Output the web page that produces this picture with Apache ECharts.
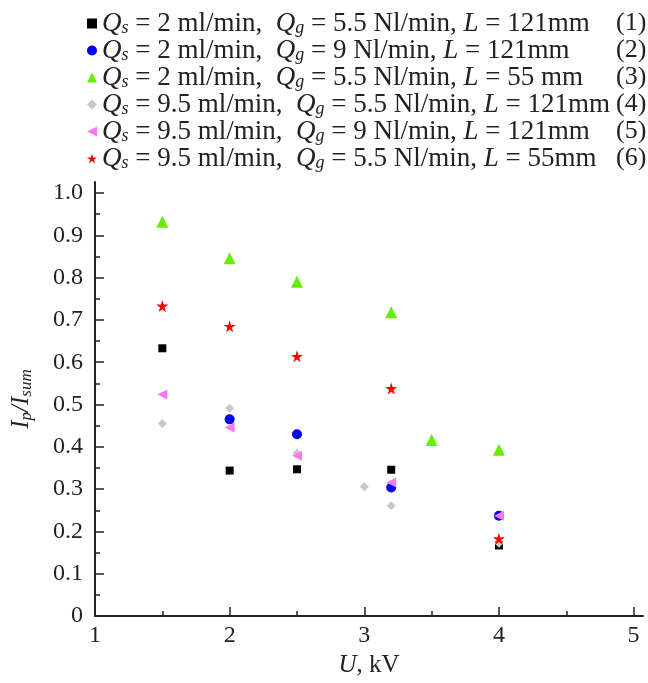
<!DOCTYPE html>
<html>
<head>
<meta charset="utf-8">
<script src="https://cdn.jsdelivr.net/npm/echarts@6/dist/echarts.min.js"></script>
<style>
html,body{margin:0;padding:0;background:#fff;}
#chart{width:648px;height:683px;}
</style>
</head>
<body>
<div id="chart"></div>
<script>
// ---- data ----
var xTickLabels = [1, 2, 3, 4, 5];
var xMinorTicks = [1.5, 2.5, 3.5, 4.5];
var yTickLabels = [0, 0.1, 0.2, 0.3, 0.4, 0.5, 0.6, 0.7, 0.8, 0.9, 1.0];
var yMinorTicks = [0.05, 0.15, 0.25, 0.35, 0.45, 0.55, 0.65, 0.75, 0.85, 0.95];

var s1X = [1.5, 2, 2.5, 3.2, 4];
var s1Y = [0.633, 0.344, 0.347, 0.346, 0.167];
var s2X = [2, 2.5, 3.2, 4];
var s2Y = [0.465, 0.430, 0.304, 0.237];
var s3X = [1.5, 2, 2.5, 3.2, 3.5, 4];
var s3Y = [0.932, 0.846, 0.790, 0.718, 0.416, 0.393];
var s4X = [1.5, 2, 2.5, 3, 3.2, 4];
var s4Y = [0.455, 0.491, 0.385, 0.306, 0.261, 0.172];
var s5X = [1.5, 2, 2.5, 3.2, 4];
var s5Y = [0.524, 0.446, 0.379, 0.316, 0.237];
var s6X = [1.5, 2, 2.5, 3.2, 4];
var s6Y = [0.733, 0.685, 0.614, 0.538, 0.183];

var seriesNames = [
  'Qs = 2 ml/min, Qg = 5.5 Nl/min, L = 121mm (1)',
  'Qs = 2 ml/min, Qg = 9 Nl/min, L = 121mm (2)',
  'Qs = 2 ml/min, Qg = 5.5 Nl/min, L = 55 mm (3)',
  'Qs = 9.5 ml/min, Qg = 5.5 Nl/min, L = 121mm (4)',
  'Qs = 9.5 ml/min, Qg = 9 Nl/min, L = 121mm (5)',
  'Qs = 9.5 ml/min, Qg = 5.5 Nl/min, L = 55mm (6)'
];
var legendQs = ['2', '2', '2', '9.5', '9.5', '9.5'];
var legendQg = ['5.5', '9', '5.5', '5.5', '9', '5.5'];
var legendL = ['121mm', '121mm', '55 mm', '121mm', '121mm', '55mm'];
var legendNum = ['(1)', '(2)', '(3)', '(4)', '(5)', '(6)'];

var allX = [s1X, s2X, s3X, s4X, s5X, s6X];
var allY = [s1Y, s2Y, s3Y, s4Y, s5Y, s6Y];

// ---- styles ----
var STAR = 'path://M50,0 L61,35 L98,35 L68,57 L79,91 L50,70 L21,91 L32,57 L2,35 L39,35 Z';
var LEFTTRI = 'path://M0,50 L100,0 L100,100 Z';
var symbols = ['rect', 'circle', 'triangle', 'diamond', LEFTTRI, STAR];
var sizes = [8, 10, 12, 9, 10, 12];
var colors = ['#000000', '#0000ff', '#66ee00', '#c8c8c8', '#f57af5', '#ff0000'];

var FONT = 'Liberation Serif';
var TXT = '#222';

function pairs(xs, ys) {
  var out = [];
  for (var i = 0; i < xs.length; i++) out.push([xs[i], ys[i]]);
  return out;
}

var series = seriesNames.map(function (n, k) {
  return {
    name: n,
    type: 'scatter',
    symbol: symbols[k],
    symbolSize: sizes[k],
    itemStyle: { color: colors[k], opacity: 1 },
    data: pairs(allX[k], allY[k]),
    z: 2 + k
  };
});

var legRich = {
  i: { fontFamily: FONT, fontStyle: 'italic', fontSize: 27, color: TXT, lineHeight: 27 },
  sub: { fontFamily: FONT, fontStyle: 'italic', fontSize: 18, color: TXT, lineHeight: 16, verticalAlign: 'bottom' },
  n: { fontFamily: FONT, fontSize: 27, color: TXT, lineHeight: 27 }
};
var axRich = {
  i: { fontFamily: FONT, fontStyle: 'italic', fontSize: 25, color: TXT, lineHeight: 28 },
  sub: { fontFamily: FONT, fontStyle: 'italic', fontSize: 17, color: TXT, lineHeight: 16, verticalAlign: 'bottom' },
  n: { fontFamily: FONT, fontSize: 25, color: TXT, lineHeight: 28 }
};

var chart = echarts.init(document.getElementById('chart'), null, { renderer: 'canvas' });
chart.setOption({
  backgroundColor: '#ffffff',
  animation: false,
  legend: [{
    orient: 'vertical',
    left: 82,
    top: 5,
    itemWidth: 10,
    itemHeight: 10,
    itemGap: 0,
    selectedMode: false,
    data: seriesNames,
    textStyle: { fontFamily: FONT, fontSize: 27, color: TXT, lineHeight: 27, rich: legRich },
    formatter: function (name) {
      var k = seriesNames.indexOf(name);
      return '{i|Q}{sub|s}{n| = ' + legendQs[k] + ' ml/min,  }{i|Q}{sub|g}{n| = ' + legendQg[k] +
        ' Nl/min, }{i|L}{n| = ' + legendL[k] + '}';
    }
  }, {
    orient: 'vertical',
    left: 606,
    top: 5,
    itemWidth: 0,
    itemHeight: 10,
    itemGap: 0,
    icon: 'none',
    selectedMode: false,
    data: seriesNames,
    textStyle: { fontFamily: FONT, fontSize: 26, color: TXT, lineHeight: 27 },
    formatter: function (name) {
      return legendNum[seriesNames.indexOf(name)];
    }
  }],
  grid: { left: 95, right: 5, top: 182, bottom: 61, containLabel: false },
  xAxis: [{
    type: 'value', min: 1, max: 5.07, position: 'bottom',
    axisLine: { show: true, onZero: false, lineStyle: { color: TXT, width: 2 } },
    axisTick: { show: true, inside: true, length: 9, customValues: xTickLabels, lineStyle: { color: TXT, width: 1.5 } },
    axisLabel: { customValues: xTickLabels, fontFamily: FONT, fontSize: 24, color: TXT, margin: 8 },
    splitLine: { show: false },
    name: '{i|U}{n|, kV}',
    nameLocation: 'middle',
    nameGap: 35,
    nameTextStyle: { rich: axRich }
  }, {
    type: 'value', min: 1, max: 5.07, position: 'bottom',
    axisLine: { show: false },
    axisTick: { show: true, inside: true, length: 5, customValues: xMinorTicks, lineStyle: { color: TXT, width: 1.5 } },
    axisLabel: { show: false },
    splitLine: { show: false }
  }],
  yAxis: [{
    type: 'value', min: 0, max: 1.026, position: 'left',
    axisLine: { show: true, onZero: false, lineStyle: { color: TXT, width: 2 } },
    axisTick: { show: true, inside: true, length: 9, customValues: yTickLabels, lineStyle: { color: TXT, width: 1.5 } },
    axisLabel: {
      customValues: yTickLabels, fontFamily: FONT, fontSize: 24, color: TXT, margin: 12,
      formatter: function (v) { return v === 0 ? '0' : v.toFixed(1); }
    },
    splitLine: { show: false },
    name: '{i|I}{sub|p}{i|/I}{sub|sum}',
    nameLocation: 'middle',
    nameRotate: 90,
    nameGap: 60,
    nameTextStyle: { rich: axRich }
  }, {
    type: 'value', min: 0, max: 1.026, position: 'left',
    axisLine: { show: false },
    axisTick: { show: true, inside: true, length: 5, customValues: yMinorTicks, lineStyle: { color: TXT, width: 1.5 } },
    axisLabel: { show: false },
    splitLine: { show: false }
  }],
  series: series
});
</script>
</body>
</html>
